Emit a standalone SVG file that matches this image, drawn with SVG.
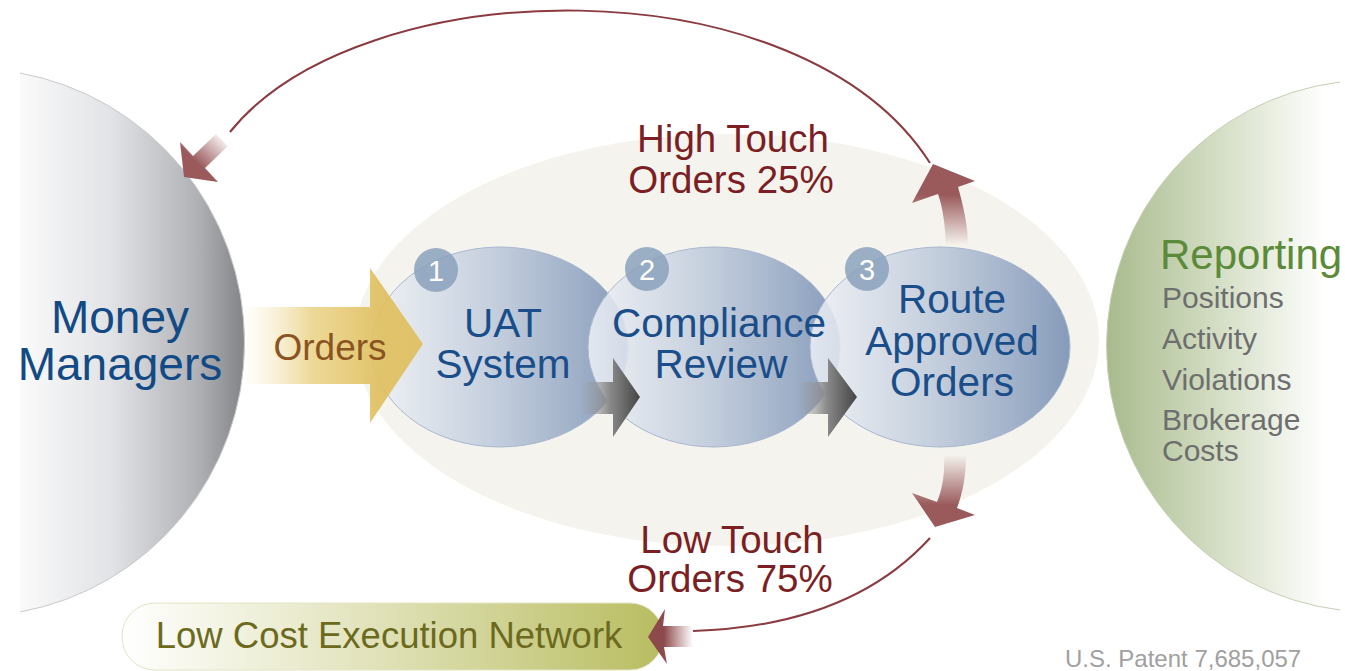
<svg xmlns="http://www.w3.org/2000/svg" width="1345" height="671" viewBox="0 0 1345 671">
<defs>
<style>
text{font-family:"Liberation Sans",Arial,Helvetica,sans-serif}
.navy{fill:#1a4e8a;font-size:40.5px;text-anchor:middle}
.mm{fill:#124a86;font-size:46px;text-anchor:middle}
.red{fill:#7b1f24;font-size:38.5px;text-anchor:middle}
.gray{fill:#6e6e6e;font-size:30px}
.num{fill:#ffffff;font-size:29px;text-anchor:middle}
.blue{stroke:#a8b8cf;stroke-width:1;fill:url(#gBlue)}
.badge{fill:#8aa1bc;opacity:0.85}
.garrow{fill:url(#gGray)}
.arc{fill:none;stroke:#8b3b40;stroke-width:2}
</style>
<linearGradient id="gMoney" gradientUnits="userSpaceOnUse" x1="0" y1="0" x2="246" y2="0">
<stop offset="0" stop-color="#ffffff"/>
<stop offset="0.45" stop-color="#e2e3e6"/>
<stop offset="0.8" stop-color="#b0b2b6"/>
<stop offset="1" stop-color="#808286"/>
</linearGradient>
<linearGradient id="gRep" gradientUnits="userSpaceOnUse" x1="1108" y1="0" x2="1325" y2="0">
<stop offset="0" stop-color="#a9bb8e"/>
<stop offset="0.5" stop-color="#d3ddc3"/>
<stop offset="1" stop-color="#ffffff"/>
</linearGradient>
<linearGradient id="gBlue" x1="0" y1="0" x2="1" y2="0">
<stop offset="0" stop-color="#eef1f6" stop-opacity="0.85"/>
<stop offset="0.5" stop-color="#bdc9da" stop-opacity="0.92"/>
<stop offset="1" stop-color="#869bba"/>
</linearGradient>
<linearGradient id="gOrders" gradientUnits="userSpaceOnUse" x1="240" y1="0" x2="380" y2="0">
<stop offset="0" stop-color="#f6ecc8" stop-opacity="0"/>
<stop offset="0.5" stop-color="#ecd690"/>
<stop offset="1" stop-color="#dfbf5f"/>
</linearGradient>
<linearGradient id="gGray" x1="0" y1="0" x2="1" y2="0">
<stop offset="0" stop-color="#9a9a9a" stop-opacity="0"/>
<stop offset="0.5" stop-color="#8a8a8a"/>
<stop offset="1" stop-color="#444444"/>
</linearGradient>
<linearGradient id="gPill" gradientUnits="userSpaceOnUse" x1="122" y1="0" x2="665" y2="0">
<stop offset="0" stop-color="#ffffff"/>
<stop offset="0.45" stop-color="#e2e3bc"/>
<stop offset="1" stop-color="#b8bd60"/>
</linearGradient>
<linearGradient id="gUp" gradientUnits="userSpaceOnUse" x1="0" y1="245" x2="0" y2="195">
<stop offset="0" stop-color="#9a5a5c" stop-opacity="0"/>
<stop offset="1" stop-color="#9a5a5c"/>
</linearGradient>
<linearGradient id="gDown" gradientUnits="userSpaceOnUse" x1="0" y1="455" x2="0" y2="505">
<stop offset="0" stop-color="#9a5a5c" stop-opacity="0"/>
<stop offset="1" stop-color="#9a5a5c"/>
</linearGradient>
<linearGradient id="gTL" gradientUnits="userSpaceOnUse" x1="200" y1="166" x2="227" y2="138">
<stop offset="0" stop-color="#9a5a5c"/>
<stop offset="1" stop-color="#9a5a5c" stop-opacity="0"/>
</linearGradient>
<linearGradient id="gBL" gradientUnits="userSpaceOnUse" x1="664" y1="0" x2="693" y2="0">
<stop offset="0" stop-color="#8d4a4c"/>
<stop offset="1" stop-color="#9a5a5c" stop-opacity="0"/>
</linearGradient>
</defs>

<rect width="1345" height="671" fill="#ffffff"/>

<g id="background-oval">
<ellipse cx="727" cy="340" rx="372" ry="206" fill="#f5f3ed"/>
</g>

<g id="money-managers">
<path d="M20,73 A274,274 0 0 1 20,612 Z" fill="url(#gMoney)"/>
<path d="M20,73 A274,274 0 0 1 20,612" fill="none" stroke="#c9cacc" stroke-width="1"/>
<text class="mm" x="120" y="333">Money</text>
<text class="mm" x="120" y="380">Managers</text>
</g>

<g id="reporting">
<path d="M1340,82 A266,266 0 0 0 1340,610 Z" fill="url(#gRep)"/>
<path d="M1340,82 A266,266 0 0 0 1340,610" fill="none" stroke="#c5d0b3" stroke-width="1"/>
<text x="1160" y="269" font-size="42" fill="#5b8a39">Reporting</text>
<text class="gray" x="1162" y="308">Positions</text>
<text class="gray" x="1162" y="349">Activity</text>
<text class="gray" x="1162" y="390">Violations</text>
<text class="gray" x="1162" y="430">Brokerage</text>
<text class="gray" x="1162" y="461">Costs</text>
</g>

<g id="uat-system">
<ellipse class="blue" cx="500" cy="347" rx="128" ry="100"/>
</g>
<g id="compliance-review">
<ellipse class="blue" cx="714" cy="347" rx="126" ry="100"/>
</g>
<g id="route-approved-orders">
<ellipse class="blue" cx="940" cy="347" rx="130" ry="100"/>
</g>

<g id="orders-arrow">
<path d="M240,307 L370,307 L370,268 L423,344 L370,423 L370,384 L240,384 Z" fill="url(#gOrders)" opacity="0.92"/>
<text x="330" y="360" font-size="37" fill="#8a5422" text-anchor="middle">Orders</text>
</g>

<g id="connectors">
<path class="garrow" d="M580,382 L613,382 L613,358 L640,397 L613,437 L613,414 L580,414 Z"/>
<path class="garrow" d="M797,382 L828,382 L828,358 L857,397 L828,437 L828,414 L797,414 Z"/>
<path class="arc" d="M230,132 C360,-30 800,-40 930,163"/>
<path class="arc" d="M930,538 Q850,626 693,631"/>
<path d="M946,245 C945,225 943,208 938,194 L912,203 L933,164 L975,181 L958,187 C963,205 968,225 968,245 Z" fill="url(#gUp)"/>
<path d="M944,455 C945,475 942,490 937,502 L912,493 L935,527 L975,515 L957,508 C963,492 966,475 966,455 Z" fill="url(#gDown)"/>
<path d="M193,156 L180,142 L184,177 L218,182 L205,168 L228,146 L216,134 Z" fill="url(#gTL)"/>
</g>

<g id="uat-system-label">
<circle class="badge" cx="436" cy="270" r="22"/>
<text class="num" x="436" y="281">1</text>
<text class="navy" x="503" y="337">UAT</text>
<text class="navy" x="503" y="378">System</text>
</g>
<g id="compliance-review-label">
<circle class="badge" cx="647" cy="269" r="22"/>
<text class="num" x="647" y="280">2</text>
<text class="navy" x="719" y="337">Compliance</text>
<text class="navy" x="721" y="378">Review</text>
</g>
<g id="route-approved-orders-label">
<circle class="badge" cx="867" cy="269" r="22"/>
<text class="num" x="867" y="280">3</text>
<text class="navy" x="952" y="313">Route</text>
<text class="navy" x="952" y="355">Approved</text>
<text class="navy" x="952" y="396">Orders</text>
</g>

<g id="low-cost-execution-network">
<path d="M155,603 L630,603 A33,33 0 0 1 663,636 A33,33 0 0 1 630,670 L155,670 A33,33 0 0 1 122,636 A33,33 0 0 1 155,603 Z" fill="url(#gPill)" stroke="#e3e4c4" stroke-width="1"/>
<text x="389" y="648" font-size="36.5" fill="#6c6a1e" text-anchor="middle">Low Cost Execution Network</text>
</g>
<g id="bottom-arrowhead">
<path d="M663,626 L665,609 L648,637 L667,664 L664,647 L693,647 L693,626 Z" fill="url(#gBL)"/>
</g>

<g id="labels">
<text class="red" x="733" y="152">High Touch</text>
<text class="red" x="731" y="193">Orders 25%</text>
<text class="red" x="732" y="553">Low Touch</text>
<text class="red" x="730" y="592">Orders 75%</text>
<text x="1065" y="667" font-size="24" fill="#a0a0a0">U.S. Patent 7,685,057</text>
</g>
</svg>
